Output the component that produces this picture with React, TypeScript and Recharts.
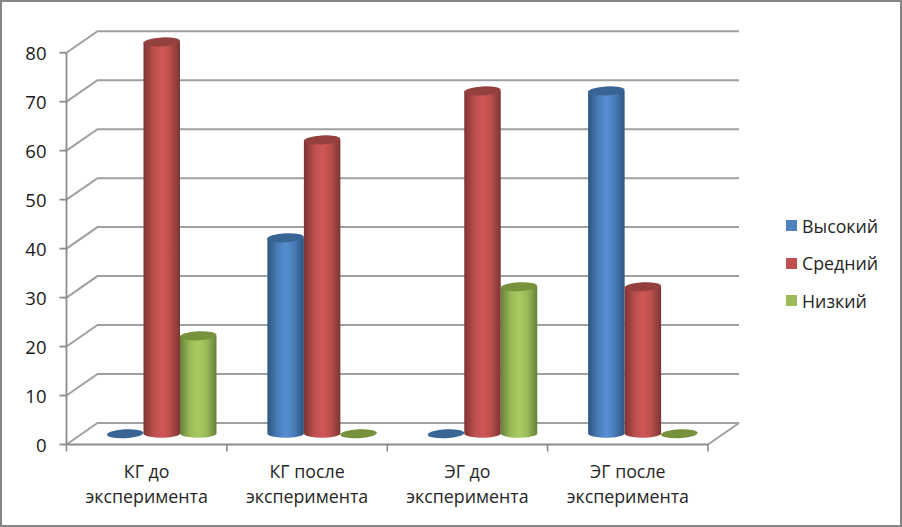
import React from 'react';
import { BarChart, Bar, XAxis, YAxis, CartesianGrid, Legend } from 'recharts';

const categories = ['КГ до эксперимента', 'КГ после эксперимента', 'ЭГ до эксперимента', 'ЭГ после эксперимента'];
const high = [0, 40, 0, 70];
const medium = [80, 60, 70, 30];
const low = [20, 0, 30, 0];
const yTicks = [0, 10, 20, 30, 40, 50, 60, 70, 80];

const data = categories.map((name, i) => ({
  name,
  high: high[i],
  medium: medium[i],
  low: low[i],
}));

const FONT = '"Open Sans", sans-serif';
const AXIS = '#8c8c8c';
// how far the back wall sits from the front plane
const DEPTH_X = 31;
const DEPTH_Y = -21.5;

const series = [
  { key: 'high', label: 'Высокий', swatch: '#4f81bd', edge: '#2c5480', mid: '#4a7db8', light: '#568fd3', cap: '#386594' },
  { key: 'medium', label: 'Средний', swatch: '#c0504d', edge: '#7d3533', mid: '#bb4f4c', light: '#d05755', cap: '#94403e' },
  { key: 'low', label: 'Низкий', swatch: '#9bbb59', edge: '#66803a', mid: '#9bbb58', light: '#a9ca61', cap: '#76923c' },
];

function Cylinder(props: any) {
  const { x, y, width, height, index, tone } = props;
  const left = x + DEPTH_X / 2;
  const right = left + width;
  const cx = left + width / 2;
  const top = y + DEPTH_Y / 2;
  const bottom = top + height;
  const ry = 4.5;
  return (
    <g key={index}>
      {height > 0 && (
        <path
          d={`M${left},${top} L${left},${bottom} A${width / 2},${ry} 0 0 0 ${right},${bottom - 1} L${right},${top} Z`}
          fill={`url(#cyl-${tone.key})`}
        />
      )}
      <ellipse cx={cx} cy={top} rx={width / 2} ry={ry} fill={tone.cap} transform={`rotate(-3 ${cx} ${top})`} />
    </g>
  );
}

function WallLine(props: any) {
  const { x1, x2, y1, index } = props;
  return (
    <g key={index} fill="none" stroke="#a0a0a0" strokeWidth={2}>
      <path d={`M${x1},${y1} L${x1 + DEPTH_X},${y1 + DEPTH_Y} L${x2 + DEPTH_X},${y1 + DEPTH_Y}`} />
      {y1 > 400 && <path d={`M${x2},${y1} L${x2 + DEPTH_X},${y1 + DEPTH_Y}`} />}
    </g>
  );
}

function CategoryTick(props: any) {
  const { x, y, payload, index } = props;
  const words = payload.value.split(' ');
  const last = words.pop();
  const half = payload.offset ?? 80.25;
  return (
    <g>
      <line x1={x - half} x2={x - half} y1={y - 8} y2={y - 1} stroke={AXIS} strokeWidth={1.6} />
      {index === categories.length - 1 && (
        <line x1={x + half} x2={x + half} y1={y - 8} y2={y - 1} stroke={AXIS} strokeWidth={1.6} />
      )}
      <text x={x} textAnchor="middle" fontFamily={FONT} fontSize={17.8} fill="#262626">
        <tspan x={x} y={y + 25}>{words.join(' ')}</tspan>
        <tspan x={x} y={y + 50}>{last}</tspan>
      </text>
    </g>
  );
}

function LegendList() {
  return (
    <div style={{ fontFamily: FONT, fontSize: 17.8, color: '#262626' }}>
      {series.map((s) => (
        <div key={s.key} style={{ display: 'flex', alignItems: 'center', height: 37.5 }}>
          <span style={{ width: 11, height: 11, background: s.swatch, marginRight: 5 }} />
          {s.label}
        </div>
      ))}
    </div>
  );
}

export default function App() {
  return (
    <div style={{ position: 'absolute', left: 0, top: 0, width: 902, height: 527, background: '#fff' }}>
      <BarChart
        width={902}
        height={527}
        data={data}
        margin={{ top: 52.7, right: 78, bottom: 0, left: 0 }}
        barGap={0}
        barSize={36.5}
      >
        <defs>
          {series.map((s) => (
            <linearGradient key={s.key} id={`cyl-${s.key}`} x1="0" y1="0" x2="1" y2="0">
              <stop offset="0%" stopColor={s.edge} />
              <stop offset="28%" stopColor={s.mid} />
              <stop offset="50%" stopColor={s.light} />
              <stop offset="72%" stopColor={s.mid} />
              <stop offset="100%" stopColor={s.edge} />
            </linearGradient>
          ))}
        </defs>
        <CartesianGrid vertical={false} horizontal={(p: any) => <WallLine {...p} />} />
        <XAxis
          dataKey="name"
          height={82.5}
          interval={0}
          tickLine={false}
          axisLine={{ stroke: AXIS, strokeWidth: 1.8 }}
          tick={(p: any) => <CategoryTick {...p} />}
        />
        <YAxis
          width={66.5}
          domain={[0, 80]}
          ticks={yTicks}
          tickSize={7}
          tickMargin={13}
          axisLine={{ stroke: AXIS, strokeWidth: 1.8 }}
          tickLine={{ stroke: AXIS, strokeWidth: 1.8 }}
          tick={{ fontFamily: FONT, fontSize: 18.5, fill: '#1a1a1a', dy: 1 }}
        />
        {series.map((s) => (
          <Bar
            key={s.key}
            dataKey={s.key}
            name={s.label}
            fill={s.swatch}
            isAnimationActive={false}
            shape={(p: any) => <Cylinder {...p} tone={s} />}
          />
        ))}
        <Legend
          layout="vertical"
          align="right"
          verticalAlign="top"
          width={116}
          content={() => <LegendList />}
          wrapperStyle={{ left: 786, top: 207 }}
        />
      </BarChart>
      <div
        style={{
          position: 'absolute',
          inset: 0,
          border: '2px solid #868686',
          boxSizing: 'border-box',
          pointerEvents: 'none',
        }}
      />
    </div>
  );
}
